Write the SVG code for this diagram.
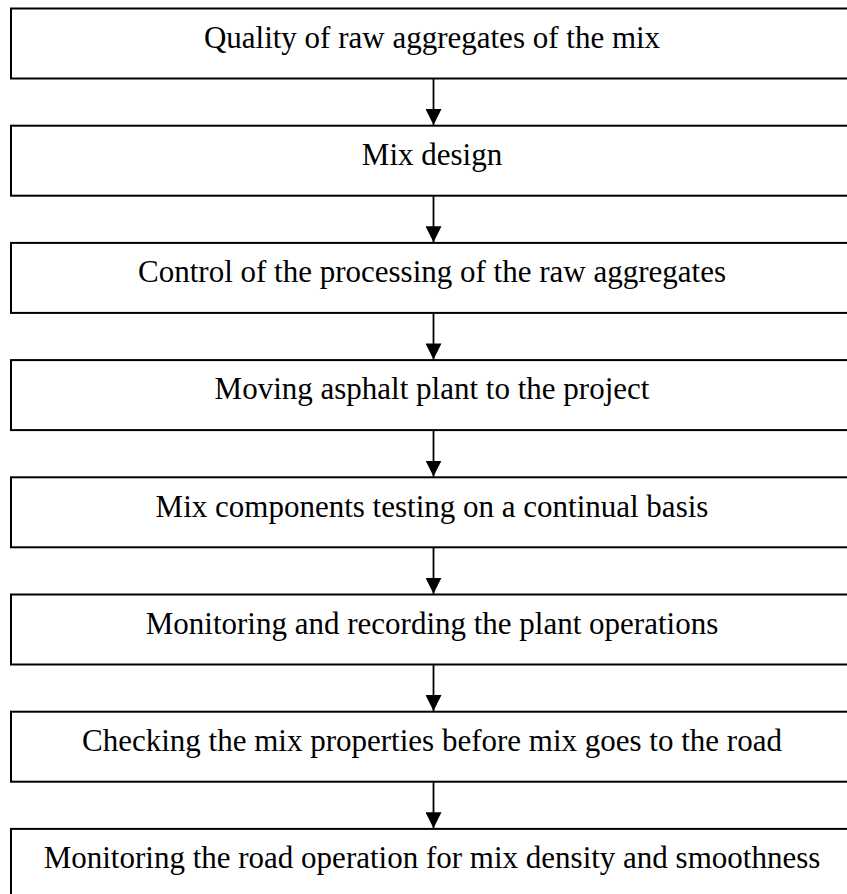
<svg xmlns="http://www.w3.org/2000/svg" width="847" height="894" viewBox="0 0 847 894">
<defs>
<style>
.box{fill:#fff;stroke:#000;stroke-width:2}
.t{font-family:"Liberation Serif","Times New Roman",serif;font-size:31px;fill:#000;text-anchor:middle}
.c line{stroke:#000;stroke-width:1.8}
</style>
<marker id="ah" markerUnits="userSpaceOnUse" markerWidth="17" markerHeight="16" refX="16" refY="8" orient="auto" viewBox="0 0 17 16">
<polygon points="0,0 16,8 0,16" fill="#000"/>
</marker>
</defs>
<rect width="847" height="894" fill="#fff"/>
<g class="c" id="connectors">
<line x1="433.5" y1="79" x2="433.5" y2="125" marker-end="url(#ah)"/>
<line x1="433.5" y1="196.2" x2="433.5" y2="242.2" marker-end="url(#ah)"/>
<line x1="433.5" y1="313.4" x2="433.5" y2="359.4" marker-end="url(#ah)"/>
<line x1="433.5" y1="430.6" x2="433.5" y2="476.6" marker-end="url(#ah)"/>
<line x1="433.5" y1="547.8" x2="433.5" y2="593.8" marker-end="url(#ah)"/>
<line x1="433.5" y1="665" x2="433.5" y2="711" marker-end="url(#ah)"/>
<line x1="433.5" y1="782.2" x2="433.5" y2="828.2" marker-end="url(#ah)"/>
</g>
<g id="n1"><rect class="box" x="11" y="8.5" width="845" height="70"/><text class="t" x="432" y="47.7">Quality of raw aggregates of the mix</text></g>
<g id="n2"><rect class="box" x="11" y="125.7" width="845" height="70"/><text class="t" x="432" y="164.9">Mix design</text></g>
<g id="n3"><rect class="box" x="11" y="242.9" width="845" height="70"/><text class="t" x="432" y="282.1">Control of the processing of the raw aggregates</text></g>
<g id="n4"><rect class="box" x="11" y="360.1" width="845" height="70"/><text class="t" x="432" y="399.3">Moving asphalt plant to the project</text></g>
<g id="n5"><rect class="box" x="11" y="477.3" width="845" height="70"/><text class="t" x="432" y="516.5">Mix components testing on a continual basis</text></g>
<g id="n6"><rect class="box" x="11" y="594.5" width="845" height="70"/><text class="t" x="432" y="633.7">Monitoring and recording the plant operations</text></g>
<g id="n7"><rect class="box" x="11" y="711.7" width="845" height="70"/><text class="t" x="432" y="750.9">Checking the mix properties before mix goes to the road</text></g>
<g id="n8"><rect class="box" x="11" y="828.9" width="845" height="70"/><text class="t" x="432" y="867.5">Monitoring the road operation for mix density and smoothness</text></g>
</svg>
